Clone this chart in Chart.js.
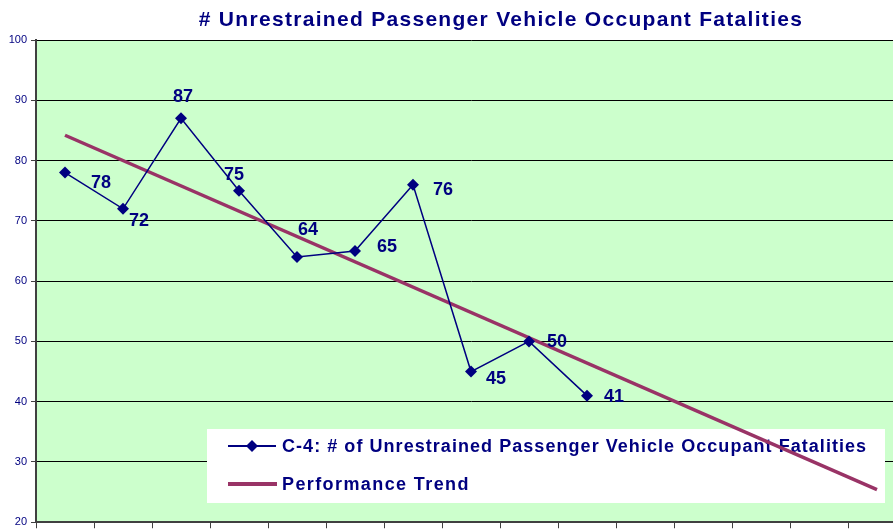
<!DOCTYPE html>
<html>
<head>
<meta charset="utf-8">
<script src="https://cdn.jsdelivr.net/npm/chart.js@4"></script>
<style>
    html, body { margin: 0; padding: 0; background: #fff; overflow: hidden; }
    #wrap { position: relative; width: 893px; height: 529px; overflow: hidden; }
    #chart { position: absolute; left: 0; top: 0; }
</style>
</head>
<body>
<div id="wrap">
    <canvas id="chart" width="1000" height="529"></canvas>
</div>
<script>
// chart data
const periods = ['1', '2', '3', '4', '5', '6', '7', '8', '9', '10', '11', '12', '13', '14', '15'];
const fatalities = [78, 72, 87, 75, 64, 65, 76, 45, 50, 41];
// straight trend line, read at its two ends
const trend = [84.2, null, null, null, null, null, null, null, null, null, null, null, null, null, 25.4];
const yTicks = [20, 30, 40, 50, 60, 70, 80, 90, 100];

const titleText = '# Unrestrained Passenger Vehicle Occupant Fatalities';
const seriesName = 'C-4: # of Unrestrained Passenger Vehicle Occupant Fatalities';
const trendName = 'Performance Trend';

const FONT = '"Liberation Sans", Arial, sans-serif';
const NAVY = '#000080';
const PLUM = '#993366';

// where each value label sits relative to its point (px)
const labelOffsets = [[36, 9], [16, 11], [2, -22], [-5, -17], [11, -28], [32, -5], [30, 4], [25, 6], [28, 0], [27, 0]];

const plotBg = {
    id: 'plotBg',
    beforeDraw(chart) {
        const { ctx, chartArea: a } = chart;
        ctx.save();
        ctx.fillStyle = '#ccffcc';
        ctx.fillRect(a.left, a.top, a.right - a.left, a.bottom - a.top);
        ctx.restore();
    },
    afterDraw(chart) {
        // title, centred like the original
        const ctx = chart.ctx;
        ctx.save();
        ctx.font = 'bold 21px ' + FONT;
        ctx.letterSpacing = '1.3px';
        ctx.fillStyle = NAVY;
        ctx.textAlign = 'center';
        ctx.textBaseline = 'alphabetic';
        ctx.fillText(titleText, 501, 26);
        ctx.restore();
    }
};

// legend box sits inside the plot, under the lines
const insideLegend = {
    id: 'insideLegend',
    beforeDatasetsDraw(chart) {
        const ctx = chart.ctx;
        ctx.save();
        ctx.fillStyle = '#ffffff';
        ctx.fillRect(207, 429, 678, 74);

        ctx.strokeStyle = NAVY;
        ctx.lineWidth = 2;
        ctx.beginPath();
        ctx.moveTo(228, 446);
        ctx.lineTo(276, 446);
        ctx.stroke();
        ctx.fillStyle = NAVY;
        ctx.beginPath();
        ctx.moveTo(252, 440);
        ctx.lineTo(258, 446);
        ctx.lineTo(252, 452);
        ctx.lineTo(246, 446);
        ctx.closePath();
        ctx.fill();

        ctx.strokeStyle = PLUM;
        ctx.lineWidth = 4;
        ctx.beginPath();
        ctx.moveTo(228, 484);
        ctx.lineTo(277, 484);
        ctx.stroke();

        ctx.font = 'bold 18px ' + FONT;
        ctx.letterSpacing = '1.05px';
        ctx.fillStyle = NAVY;
        ctx.textAlign = 'left';
        ctx.textBaseline = 'middle';
        ctx.fillText(seriesName, 282, 447);
        ctx.letterSpacing = '1.4px';
        ctx.fillText(trendName, 282, 485);
        ctx.restore();
    }
};

const valueLabels = {
    id: 'valueLabels',
    afterDatasetsDraw(chart) {
        const ctx = chart.ctx;
        const meta = chart.getDatasetMeta(1);
        ctx.save();
        ctx.font = 'bold 18px ' + FONT;
        ctx.fillStyle = NAVY;
        ctx.textAlign = 'center';
        ctx.textBaseline = 'middle';
        meta.data.forEach((pt, i) => {
            const off = labelOffsets[i] || [20, 0];
            ctx.fillText(String(fatalities[i]), pt.x + off[0], pt.y + off[1] + 1);
        });
        ctx.restore();
    }
};

new Chart(document.getElementById('chart'), {
    type: 'line',
    data: {
        labels: periods,
        datasets: [
            {
                label: trendName,
                data: trend,
                borderColor: PLUM,
                borderWidth: 3.5,
                pointRadius: 0,
                spanGaps: true,
                order: 2
            },
            {
                label: seriesName,
                data: fatalities,
                borderColor: NAVY,
                backgroundColor: NAVY,
                borderWidth: 1.5,
                pointStyle: 'rectRot',
                pointRadius: 6,
                pointBorderWidth: 0,
                order: 1
            }
        ]
    },
    options: {
        responsive: false,
        animation: false,
        layout: { padding: { left: 0, right: 94, top: 40, bottom: 0 } },
        plugins: {
            legend: { display: false },
            tooltip: { enabled: false },
            title: { display: false }
        },
        scales: {
            x: {
                offset: true,
                afterFit(scale) { scale.height = 6; },
                ticks: { display: false },
                grid: { offset: true, drawOnChartArea: false, tickLength: 6, color: '#404040' },
                border: { color: '#404040', width: 2 }
            },
            y: {
                min: 20,
                max: 100,
                afterFit(scale) { scale.width = 36; },
                afterBuildTicks(scale) { scale.ticks = yTicks.map(v => ({ value: v })); },
                ticks: {
                    color: NAVY,
                    padding: 4,
                    font: { family: FONT, size: 11, lineHeight: 0.5 }
                },
                grid: { color: '#000000', lineWidth: 1, tickLength: 5, tickColor: '#404040' },
                border: { color: '#404040', width: 2 }
            }
        }
    },
    plugins: [plotBg, insideLegend, valueLabels]
});
</script>
</body>
</html>
